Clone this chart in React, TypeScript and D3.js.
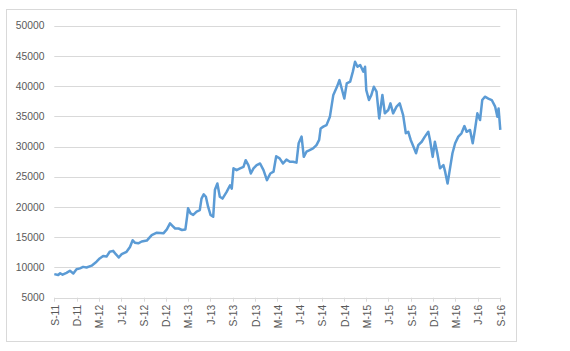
import React from "react";
import * as d3 from "d3";

const dates: string[] = [
  "2011-09-01","2011-09-17","2011-09-25","2011-10-05","2011-10-21","2011-11-04","2011-11-18","2011-12-01","2011-12-15","2011-12-28",
  "2012-01-11","2012-02-01","2012-02-21","2012-03-05","2012-03-19","2012-04-02","2012-04-15","2012-04-29",
  "2012-05-10","2012-05-22","2012-06-03","2012-06-23","2012-07-07","2012-07-18","2012-07-27","2012-08-10",
  "2012-08-24","2012-09-14","2012-10-04","2012-10-25","2012-11-21","2012-12-05","2012-12-18","2012-12-29",
  "2013-01-08","2013-01-22","2013-02-05","2013-02-19","2013-02-26","2013-03-02","2013-03-12","2013-03-23",
  "2013-04-06","2013-04-19","2013-04-26","2013-05-05","2013-05-14","2013-05-23","2013-06-02","2013-06-13",
  "2013-06-20","2013-06-30","2013-07-10","2013-07-21","2013-08-07","2013-08-21","2013-08-28","2013-09-04",
  "2013-09-17","2013-10-01","2013-10-15","2013-10-24","2013-11-04","2013-11-14","2013-11-25","2013-12-08",
  "2013-12-22","2014-01-05","2014-01-19","2014-02-02","2014-02-15","2014-02-26","2014-03-12","2014-03-26",
  "2014-04-09","2014-04-23","2014-05-06","2014-05-20","2014-05-29","2014-06-10","2014-06-19","2014-06-30",
  "2014-07-13","2014-07-27","2014-08-10","2014-08-21","2014-08-27","2014-09-07","2014-09-20","2014-10-04",
  "2014-10-18","2014-11-01","2014-11-12","2014-11-21","2014-12-02","2014-12-12","2014-12-26","2015-01-06",
  "2015-01-15","2015-01-25","2015-02-05","2015-02-18","2015-02-25","2015-03-02","2015-03-13","2015-03-23",
  "2015-04-02","2015-04-13","2015-04-24","2015-05-07","2015-05-17","2015-05-31","2015-06-09","2015-06-20",
  "2015-07-04","2015-07-17","2015-07-31","2015-08-11","2015-08-21","2015-08-31","2015-09-11","2015-09-22",
  "2015-10-01","2015-10-15","2015-10-28","2015-11-11","2015-11-18","2015-11-29","2015-12-08","2015-12-18",
  "2015-12-29","2016-01-12","2016-01-19","2016-01-29","2016-02-09","2016-02-18","2016-02-29","2016-03-13",
  "2016-03-26","2016-04-07","2016-04-16","2016-04-30","2016-05-11","2016-05-20","2016-05-30","2016-06-10",
  "2016-06-19","2016-06-30","2016-07-14","2016-07-28","2016-08-11","2016-08-20","2016-08-25","2016-09-01",
];

const values: number[] = [
  8900, 8750, 9050, 8800, 9100, 9450, 9000, 9700, 9850, 10100,
  10000, 10300, 10950, 11500, 11900, 11800, 12600, 12750,
  12200, 11650, 12200, 12600, 13400, 14500, 14100, 14000,
  14300, 14450, 15350, 15750, 15650, 16300, 17300, 16850,
  16450, 16450, 16200, 16300, 18400, 19800, 18950, 18700,
  19250, 19500, 21400, 22100, 21700, 20050, 18700, 18400,
  22850, 23900, 21700, 21400, 22500, 23600, 23050, 26400,
  26100, 26400, 26650, 27750, 26950, 25550, 26400, 26950,
  27200, 26100, 24450, 25550, 25850, 28400, 28050, 27200,
  27850, 27500, 27500, 27350, 30550, 31650, 28300, 29150,
  29400, 29700, 30250, 31100, 33000, 33300, 33550, 34950,
  38550, 39800, 41000, 39650, 37950, 40450, 40750, 42400,
  44050, 43200, 43500, 42400, 43200, 39350, 37700, 38550,
  39900, 39100, 34650, 38550, 35500, 36050, 37150, 35500,
  36600, 37150, 35200, 32200, 32450, 31100, 30000, 28900,
  30250, 30800, 31650, 32450, 31100, 28300, 30800, 28900,
  26400, 26950, 25850, 23900, 26650, 28900, 30550, 31650,
  32200, 33400, 32450, 32750, 30550, 32750, 35500, 34400,
  37700, 38250, 37950, 37700, 36600, 34950, 36300, 32750,
];

const xTickLabels: string[] = [
  "S-11","D-11","M-12","J-12","S-12","D-12","M-13","J-13","S-13","D-13","M-14",
  "J-14","S-14","D-14","M-15","J-15","S-15","D-15","M-16","J-16","S-16",
];

const yTicks: number[] = [5000, 10000, 15000, 20000, 25000, 30000, 35000, 40000, 45000, 50000];

const W = 570;
const H = 351;
const left = 54.3;
const right = 500.3;
const top = 25.7;
const bottom = 297.7;

export default function App() {
  const parse = d3.timeParse("%Y-%m-%d");
  const data = dates.map((d, i) => ({ date: parse(d) as Date, value: values[i] }));
  const start = parse("2011-09-01") as Date;
  const end = parse("2016-09-01") as Date;
  const x = d3.scaleTime().domain([start, end]).range([left, right]);
  const y = d3.scaleLinear().domain([5000, 50000]).range([bottom, top]);
  const tickDates = xTickLabels.map((_, i) => d3.timeMonth.offset(start, i * 3));
  const line = d3
    .line<{ date: Date; value: number }>()
    .x((d) => x(d.date))
    .y((d) => y(d.value));
  const font = "'Liberation Sans', Arial, sans-serif";

  return (
    <svg width={W} height={H} style={{ position: "absolute", left: 0, top: 0, background: "#fff" }}>
      <rect x={0} y={0} width={W} height={H} fill="#fff" />
      <rect x={6.5} y={9.5} width={510} height={332} fill="#fff" stroke="#d9d9d9" strokeWidth={1} />
      {yTicks.map((t) => (
        <g key={t}>
          <line x1={left} x2={right} y1={Math.round(y(t)) + 0.5} y2={Math.round(y(t)) + 0.5} stroke="#d9d9d9" strokeWidth={1} />
          <text
            x={44.5}
            y={y(t)}
            dy="0.35em"
            textAnchor="end"
            fontFamily={font}
            fontSize={10.3}
            fill="#595959"
          >
            {t}
          </text>
        </g>
      ))}
      {tickDates.map((d, i) => (
        <g key={i}>
          <line
            x1={Math.round(x(d)) + 0.5}
            x2={Math.round(x(d)) + 0.5}
            y1={bottom}
            y2={bottom + 4}
            stroke="#d9d9d9"
            strokeWidth={1}
          />
          <text
            transform={`translate(${x(d) + 1},${bottom + 7}) rotate(-90)`}
            dy="0.35em"
            textAnchor="end"
            fontFamily={font}
            fontSize={10.3}
            fill="#595959"
          >
            {xTickLabels[i]}
          </text>
        </g>
      ))}
      <path d={line(data) || ""} fill="none" stroke="#5b9bd5" strokeWidth={2.5} strokeLinejoin="round" />
    </svg>
  );
}
